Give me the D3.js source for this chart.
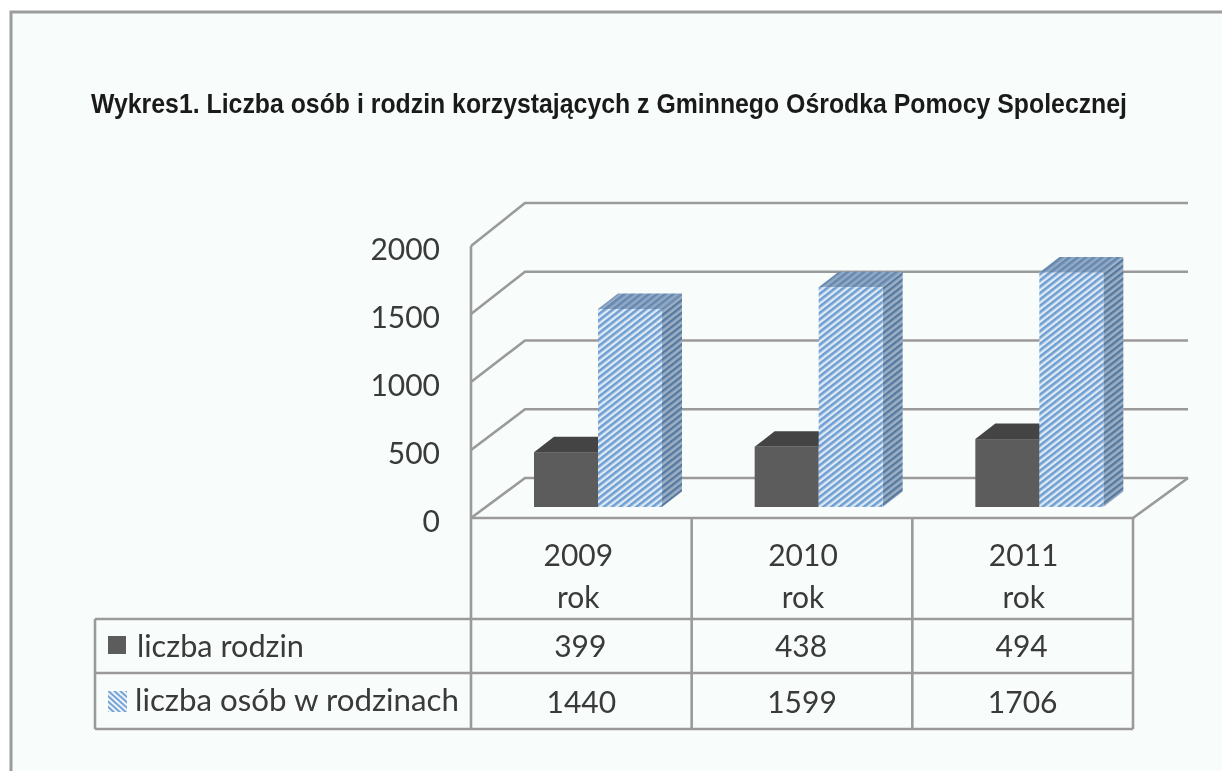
<!DOCTYPE html>
<html><head><meta charset="utf-8">
<script src="https://cdn.jsdelivr.net/npm/d3@7/dist/d3.min.js"></script>
<style>html,body{margin:0;padding:0;background:#fff}svg{display:block;filter:blur(0.7px)}</style>
</head><body><svg id="c" width="1222" height="771"></svg>
<script>
const title = "Wykres1. Liczba osób i rodzin korzystających z Gminnego Ośrodka Pomocy Spolecznej";
const years = ["2009", "2010", "2011"];
const yearSuffix = "rok";
const rodziny = [399, 438, 494];
const osoby = [1440, 1599, 1706];
const seriesNames = ["liczba rodzin", "liczba osób w rodzinach"];
const yTicks = [0, 500, 1000, 1500, 2000];

const L = 471, R = 1133, Y0 = 518, Y1 = 246, BX = 525, BXR = 1188, BY0 = 478, BY1 = 203, GRID = "#9a9a9a";
const FONT = "Lato, 'Open Sans', sans-serif", FS = 30, TXT = "#3a3a3a";
const svg = d3.select("#c");
const defs = svg.append("defs");
function stripes(id, bg, fg, w) {
  const p = defs.append("pattern").attr("id", id).attr("patternUnits", "userSpaceOnUse")
    .attr("width", 5).attr("height", 5).attr("patternTransform", "rotate(-38)");
  p.append("rect").attr("width", 5).attr("height", 5).attr("fill", bg);
  p.append("rect").attr("width", 5).attr("height", w).attr("fill", fg);
}
stripes("front", "#dfeaf6", "#6f9fd2", 2.6);
stripes("top", "#93a9c4", "#6488b0", 2.5);
stripes("side", "#9db0c6", "#56799f", 2.4);
const lg = defs.append("pattern").attr("id", "leg").attr("patternUnits", "userSpaceOnUse")
  .attr("width", 4).attr("height", 4).attr("patternTransform", "rotate(42)");
lg.append("rect").attr("width", 4).attr("height", 4).attr("fill", "#eef4fa");
lg.append("rect").attr("width", 4).attr("height", 2).attr("fill", "#76a4d6");

svg.append("rect").attr("x", 11).attr("y", 12).attr("width", 1211).attr("height", 759)
  .attr("fill", "#f8fcfa");
svg.append("path").attr("d", "M11,773V12H1224").attr("fill", "none").attr("stroke", "#9c9c9c").attr("stroke-width", 3);

svg.append("text").attr("transform", "translate(91,113) scale(1,1.17)").attr("textLength", 1036).attr("lengthAdjust", "spacingAndGlyphs")
  .attr("font-family", "'Liberation Sans', Arial, sans-serif").attr("font-weight", 700)
  .attr("font-size", 24).attr("fill", "#1a1a1a").text(title);

const y = d3.scaleLinear().domain([0, 2000]).range([Y0, Y1]);
const yBack = d3.scaleLinear().domain([0, 2000]).range([BY0, BY1]);
const x = d3.scaleBand().domain(years).range([L, R]);

const g = svg.append("g").attr("fill", "none").attr("stroke", GRID).attr("stroke-width", 2.6);
yTicks.forEach(t => {
  g.append("path").attr("d", `M${L},${y(t)}L${BX},${yBack(t)}H${BXR}`);
});
g.append("path").attr("d", `M${L},${Y1}V729`);
g.append("path").attr("d", `M${R},${Y0}L${BXR},${BY0}`);

// bars
const barW = 64, inset = 48, baseY = 507, depthX = 20, depthY = -15.5;
function bar(parent, x0, val, front, top, side) {
  const b = baseY, t = baseY - (BY0 - yBack(val)), x1 = x0 + barW;
  parent.append("path").attr("d", `M${x1},${b}L${x1 + depthX},${b + depthY}V${t + depthY}L${x1},${t}Z`).attr("fill", side);
  parent.append("path").attr("d", `M${x0},${t}L${x0 + depthX},${t + depthY}H${x1 + depthX}L${x1},${t}Z`).attr("fill", top);
  parent.append("rect").attr("x", x0).attr("y", t).attr("width", barW).attr("height", b - t).attr("fill", front);
}
const bars = svg.append("g");
years.forEach((yr, i) => {
  const x0 = x(yr) + inset + 15;
  bar(bars, x0, rodziny[i], "#5c5c5c", "#444444", "#444444");
  bar(bars, x0 + barW, osoby[i], "url(#front)", "url(#top)", "url(#side)");
});

// table
const rows = [619, 673, 729];
const tb = svg.append("g").attr("fill", "none").attr("stroke", GRID).attr("stroke-width", 2.6);
tb.append("path").attr("d", `M${L},${Y0}H${R}`);
years.forEach(yr => tb.append("path").attr("d", `M${x(yr) + x.bandwidth()},${Y0}V729`));
rows.forEach(r => tb.append("path").attr("d", `M95,${r}H${R}`));
tb.append("path").attr("d", "M95,619V729");

// y axis labels
const axis = svg.append("g").attr("transform", "translate(440,4)")
  .call(d3.axisLeft(y).tickValues(yTicks).tickSize(0).tickPadding(0).tickFormat(d3.format("d")));
axis.select(".domain").remove();
axis.selectAll("text").attr("font-family", FONT).attr("font-size", FS).attr("fill", TXT);

const txt = svg.append("g").attr("font-family", FONT).attr("font-size", FS).attr("fill", TXT)
  .attr("text-anchor", "middle");
years.forEach((yr, i) => {
  const cx = x(yr) + x.bandwidth() / 2;
  const nudge = i === 0 ? -3 : 1;
  txt.append("text").attr("x", cx + nudge).attr("y", 566).text(yr);
  txt.append("text").attr("x", cx + nudge).attr("y", 608).text(yearSuffix);
  txt.append("text").attr("x", cx - 1).attr("y", 657).text(rodziny[i]);
  txt.append("text").attr("x", cx).attr("y", 713).text(osoby[i]);
});
const leg = svg.append("g").attr("font-family", FONT).attr("font-size", FS).attr("fill", TXT);
leg.append("text").attr("x", 137).attr("y", 657).attr("textLength", 167).attr("lengthAdjust", "spacingAndGlyphs").text(seriesNames[0]);
leg.append("text").attr("x", 135).attr("y", 711).attr("textLength", 324).attr("lengthAdjust", "spacingAndGlyphs").text(seriesNames[1]);
svg.append("rect").attr("x", 108).attr("y", 636).attr("width", 18).attr("height", 18).attr("fill", "#5c5c5c");
svg.append("rect").attr("x", 108).attr("y", 691).attr("width", 19).attr("height", 21).attr("fill", "url(#leg)");
</script></body></html>
